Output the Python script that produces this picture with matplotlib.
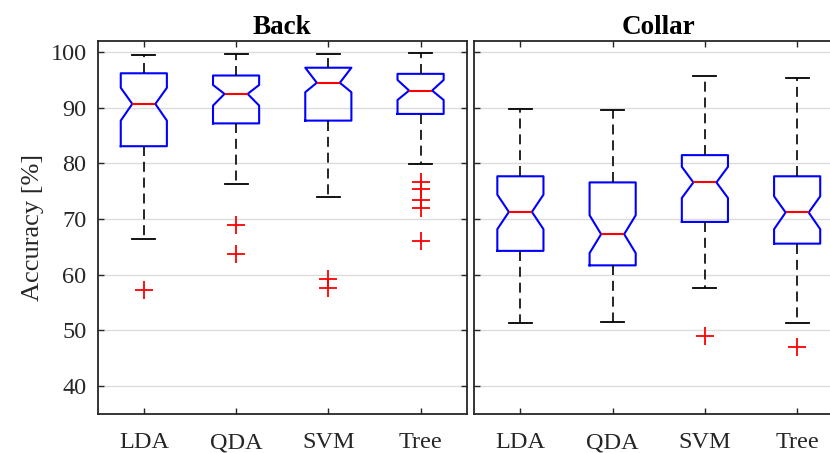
import numpy as np
import matplotlib
matplotlib.use('Agg')
import matplotlib.pyplot as plt

# Classifier names and the two sensor placements
classifiers = ['LDA', 'QDA', 'SVM', 'Tree']
panels = ['Back', 'Collar']

# Box statistics (accuracy in %)
back_whislo = [66.5, 76.4, 73.9, 79.9]
back_q1 = [83.1, 87.2, 87.7, 88.9]
back_cilo = [87.7, 90.4, 92.8, 91.4]
back_med = [90.7, 92.5, 94.5, 93.1]
back_cihi = [93.6, 94.1, 97.2, 95.0]
back_q3 = [96.2, 95.8, 97.2, 96.1]
back_whishi = [99.4, 99.6, 99.6, 99.8]
back_fliers = [[57.2], [69.0, 63.7], [59.2, 57.6], [76.7, 75.4, 73.5, 72.0, 66.1]]

collar_whislo = [51.3, 51.5, 57.7, 51.3]
collar_q1 = [64.3, 61.7, 69.5, 65.6]
collar_cilo = [68.2, 63.9, 73.8, 68.2]
collar_med = [71.3, 67.3, 76.6, 71.2]
collar_cihi = [74.4, 70.7, 79.4, 74.1]
collar_q3 = [77.7, 76.6, 81.5, 77.7]
collar_whishi = [89.7, 89.6, 95.8, 95.4]
collar_fliers = [[], [], [49.0], [47.0]]

yticks = [40, 50, 60, 70, 80, 90, 100]


def make_stats(whislo, q1, cilo, med, cihi, q3, whishi, fliers):
    stats = []
    for i in range(len(classifiers)):
        stats.append({'label': classifiers[i], 'whislo': whislo[i], 'q1': q1[i],
                      'cilo': cilo[i], 'med': med[i], 'cihi': cihi[i], 'q3': q3[i],
                      'whishi': whishi[i], 'fliers': np.array(fliers[i])})
    return stats


all_stats = [
    make_stats(back_whislo, back_q1, back_cilo, back_med, back_cihi, back_q3, back_whishi, back_fliers),
    make_stats(collar_whislo, collar_q1, collar_cilo, collar_med, collar_cihi, collar_q3, collar_whishi, collar_fliers),
]

plt.rcParams['font.family'] = ['Liberation Serif', 'DejaVu Serif']

fig = plt.figure(figsize=(8.3, 4.53), dpi=100)
ax_left = fig.add_axes([0.1177, 0.0861, 0.4446, 0.8234])
ax_right = fig.add_axes([0.5714, 0.0861, 0.4446, 0.8234])

spine_col = '#262626'
for k, ax in enumerate([ax_left, ax_right]):
    ax.bxp(all_stats[k], positions=[1, 2, 3, 4], widths=0.5, shownotches=True,
           boxprops=dict(color='blue', linewidth=1.5),
           medianprops=dict(color='red', linewidth=1.5),
           whiskerprops=dict(color='black', linewidth=1.2, linestyle=(0, (6, 3.5))),
           capprops=dict(color='black', linewidth=1.3),
           flierprops=dict(marker='+', markeredgecolor='red', markersize=13,
                           markeredgewidth=1.3, linestyle='none'))
    ax.set_xlim(0.5, 4.5)
    ax.set_ylim(35, 102)
    ax.set_yticks(yticks)
    ax.set_xticks([1, 2, 3, 4])
    ax.set_xticklabels(classifiers, fontsize=17.7, color=spine_col)
    ax.yaxis.grid(True, color='#dcdcdc', linewidth=1.0)
    ax.set_axisbelow(True)
    ax.tick_params(direction='in', top=True, right=True, length=4, width=1.0,
                   colors=spine_col, labelsize=17.5, pad=8)
    ax.tick_params(axis='x', pad=13)
    for s in ax.spines.values():
        s.set_color(spine_col)
        s.set_linewidth(1.3)
    ax.set_title(panels[k], fontsize=19.5, fontweight='bold', pad=5, color='black')

ax_right.tick_params(labelleft=False)
ax_left.set_ylabel('Accuracy [%]', fontsize=19, color=spine_col, labelpad=5)

fig.savefig('out.png', dpi=100)
